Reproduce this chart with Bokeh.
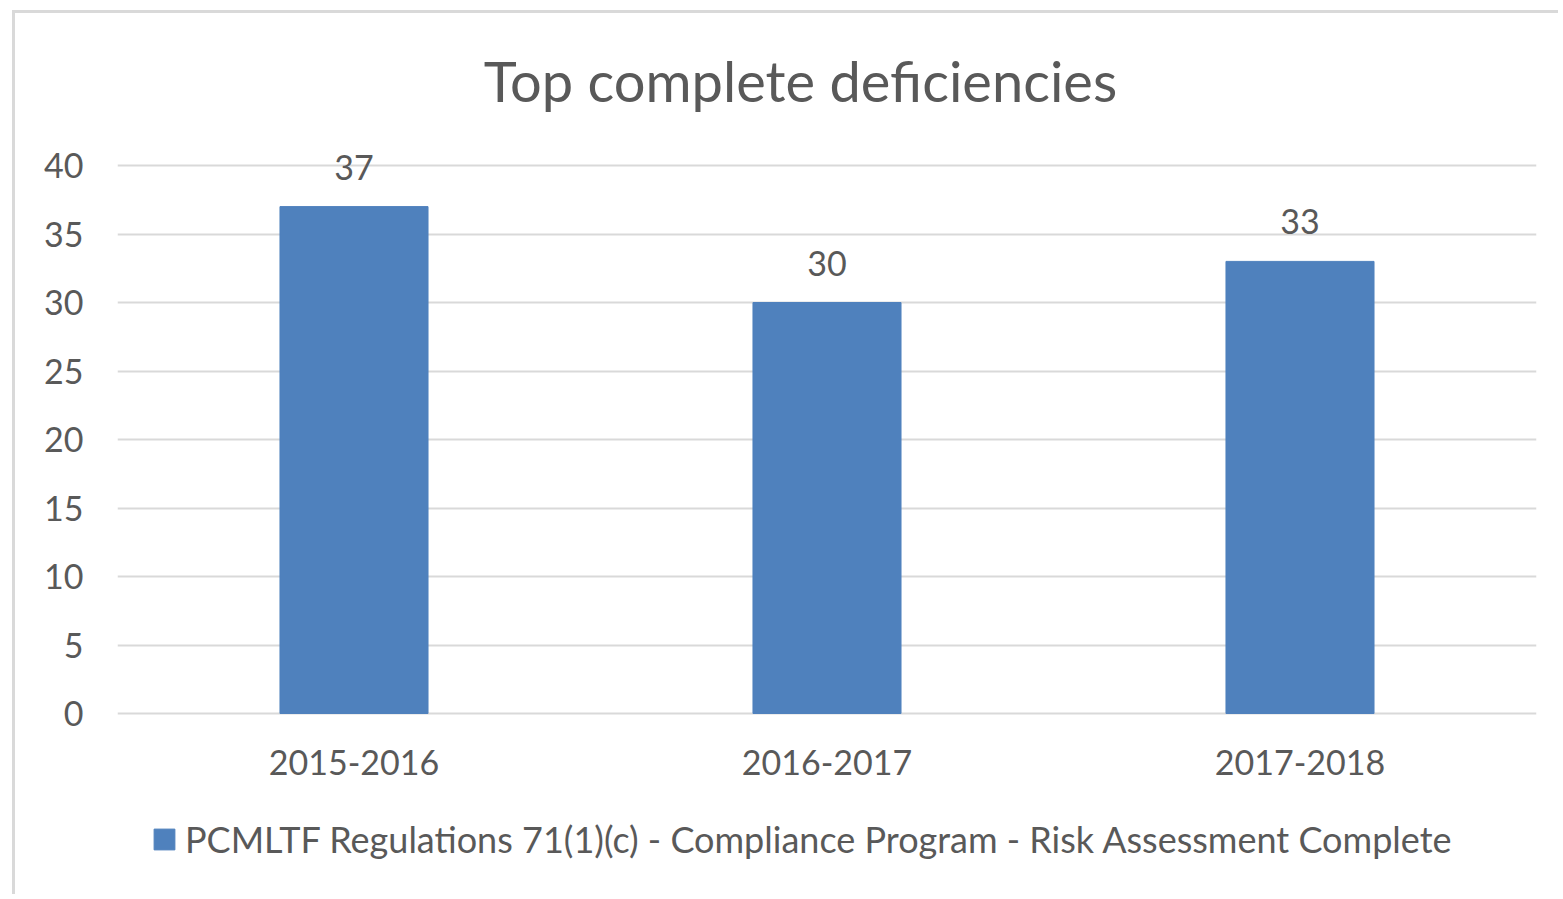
from bokeh.plotting import figure
from bokeh.models import ColumnDataSource, LabelSet, Label, Legend, LegendItem, FactorRange, Range1d, FixedTicker
from bokeh.core.properties import value
from bokeh.embed import file_html
from bokeh.resources import INLINE

categories = ["2015-2016", "2016-2017", "2017-2018"]
values = [37, 30, 33]
series_name = "PCMLTF Regulations 71(1)(c) - Compliance Program - Risk Assessment Complete"
title_text = "Top complete deficiencies"
y_ticks = [0, 5, 10, 15, 20, 25, 30, 35, 40]

FONT = "Lato"
TXT = "#595959"
BAR = "#4F81BD"
GRID = "#d9d9d9"

source = ColumnDataSource(data=dict(cat=categories, val=values, lbl=[str(v) for v in values],
                                    zero=[0] * len(values)))

# frame spans page y=20 .. y=897; value 0 at y=713, value 40 at y=165 (13.7 px per unit)
PX = 13.7
Y_END = 40 + (165 - 20) / PX
Y_MIN = -(897 - 713) / PX

p = figure(width=1546, height=884, output_backend="svg", toolbar_location=None,
           x_range=FactorRange(*categories, range_padding=0), y_range=Range1d(Y_MIN, Y_END),
           x_axis_location=None,
           min_border_left=102, min_border_right=25, min_border_top=7, min_border_bottom=0)
p.margin = (10, 0, 0, 12)
p.styles = {"border-left": "3px solid #d9d9d9", "border-top": "3px solid #d9d9d9"}
p.outline_line_color = None
p.background_fill_color = "white"
p.border_fill_color = "white"

r = p.vbar(x="cat", top="val", width=0.313, source=source, fill_color=BAR, line_color=BAR)

p.xgrid.grid_line_color = None
p.ygrid.grid_line_color = GRID
p.ygrid.grid_line_width = 2
p.yaxis.ticker = FixedTicker(ticks=y_ticks)

ax = p.yaxis
ax.axis_line_color = None
ax.major_tick_line_color = None
ax.minor_tick_line_color = None
ax.major_tick_out = 0
ax.major_tick_in = 0
ax.major_label_text_font = FONT
ax.major_label_text_color = TXT
ax.major_label_text_font_size = "34px"
ax.major_label_standoff = 34

# category labels under the baseline
cat_labels = LabelSet(x="cat", y="zero", text="cat", source=source, text_align="center",
                      text_baseline="middle", y_offset=-49, text_font=value(FONT),
                      text_font_size=value("34px"), text_color=value(TXT))
p.add_layout(cat_labels)

labels = LabelSet(x="cat", y="val", text="lbl", source=source, text_align="center",
                  text_baseline="alphabetic", y_offset=27, text_font=value(FONT),
                  text_font_size=value("34px"), text_color=value(TXT))
p.add_layout(labels)

title = Label(x=683, y=817, x_units="screen", y_units="screen", text=title_text,
              text_align="center", text_baseline="middle", text_font=FONT,
              text_font_size="56px", text_color=TXT)
p.add_layout(title)

legend = Legend(items=[LegendItem(label=series_name, renderers=[r])], location=(34, 36),
                orientation="horizontal", padding=0, margin=0, border_line_color=None,
                background_fill_alpha=0, glyph_width=26, glyph_height=26, label_standoff=8,
                label_text_font=FONT, label_text_font_size="36px", label_text_color=TXT)
p.add_layout(legend, "center")

open("out.html", "w").write(file_html(p, INLINE))
